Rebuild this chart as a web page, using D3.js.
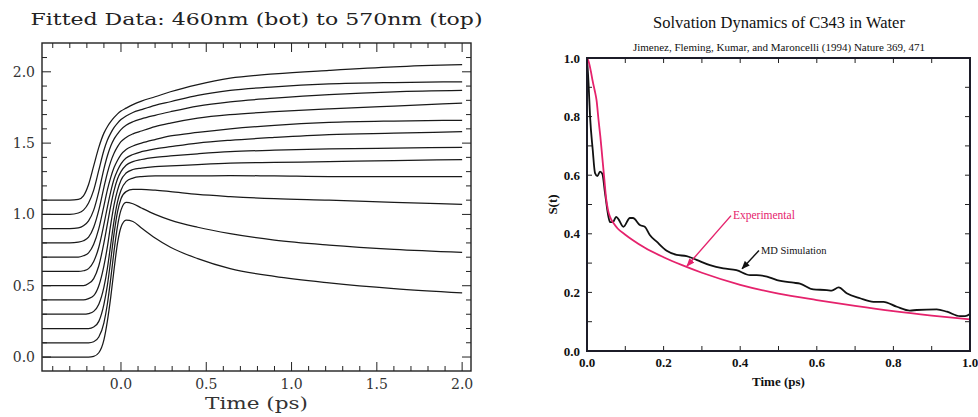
<!DOCTYPE html>
<html>
<head>
<meta charset="utf-8">
<script src="https://cdn.jsdelivr.net/npm/d3@7"></script>
<style>
  html, body { margin: 0; padding: 0; background: #fff; }
  svg { display: block; }
</style>
</head>
<body>
<svg id="chart" width="978" height="417"></svg>
<script>
// ---------- Left panel data (fitted transients, offset by 0.1 each) ----------
const leftTitle = "Fitted Data: 460nm (bot) to 570nm (top)";
const leftXLabel = "Time (ps)";
const leftTimes = [-0.46, -0.30, -0.25, -0.22, -0.19, -0.16, -0.13, -0.10, -0.08, -0.06, -0.04, -0.02, 0.0, 0.03, 0.07, 0.12, 0.2, 0.29, 0.45, 0.64, 0.9, 1.22, 1.6, 2.0];
const trace460 = [0,0,0,0,0,0.005,0.03,0.12,0.25,0.42,0.62,0.80,0.91,0.96,0.95,0.905,0.835,0.77,0.69,0.62,0.565,0.52,0.48,0.45];
const trace470 = [0.1,0.1,0.1,0.1,0.1,0.107,0.14,0.24,0.37,0.55,0.75,0.92,1.03,1.085,1.075,1.045,1.0,0.96,0.91,0.865,0.82,0.785,0.755,0.734];
const trace480 = [0.2,0.2,0.2,0.2,0.2,0.21,0.25,0.37,0.50,0.68,0.87,1.02,1.11,1.16,1.175,1.175,1.17,1.16,1.14,1.125,1.11,1.10,1.085,1.07];
const trace490 = [0.3,0.3,0.3,0.3,0.305,0.32,0.37,0.49,0.62,0.79,0.96,1.09,1.17,1.23,1.255,1.265,1.27,1.27,1.27,1.272,1.27,1.265,1.265,1.265];
const trace500 = [0.4,0.4,0.4,0.4,0.41,0.43,0.50,0.64,0.77,0.93,1.07,1.17,1.24,1.29,1.315,1.325,1.335,1.34,1.35,1.36,1.365,1.37,1.378,1.385];
const trace510 = [0.5,0.5,0.5,0.5,0.515,0.55,0.64,0.80,0.93,1.06,1.17,1.25,1.30,1.345,1.37,1.385,1.40,1.41,1.425,1.44,1.45,1.46,1.465,1.47];
const trace520 = [0.6,0.6,0.6,0.605,0.62,0.67,0.77,0.93,1.05,1.16,1.25,1.31,1.355,1.395,1.42,1.44,1.46,1.475,1.50,1.52,1.54,1.56,1.57,1.58];
const trace530 = [0.7,0.7,0.7,0.71,0.73,0.79,0.90,1.06,1.17,1.26,1.33,1.38,1.42,1.455,1.48,1.50,1.525,1.55,1.575,1.60,1.625,1.645,1.655,1.66];
const trace540 = [0.8,0.8,0.805,0.815,0.84,0.91,1.03,1.19,1.29,1.37,1.43,1.475,1.51,1.54,1.565,1.585,1.615,1.64,1.675,1.70,1.72,1.74,1.76,1.78];
const trace550 = [0.9,0.9,0.905,0.92,0.955,1.03,1.16,1.32,1.41,1.48,1.53,1.565,1.595,1.625,1.65,1.67,1.695,1.72,1.76,1.79,1.815,1.84,1.86,1.87];
const trace560 = [1.0,1.0,1.01,1.03,1.08,1.17,1.31,1.45,1.52,1.57,1.61,1.64,1.665,1.69,1.715,1.735,1.765,1.79,1.835,1.87,1.895,1.915,1.925,1.93];
const trace570 = [1.1,1.1,1.105,1.13,1.21,1.34,1.47,1.57,1.615,1.65,1.68,1.705,1.725,1.745,1.77,1.795,1.825,1.86,1.91,1.955,1.985,2.01,2.035,2.05];
const leftTraces = [trace460, trace470, trace480, trace490, trace500, trace510, trace520, trace530, trace540, trace550, trace560, trace570];
const leftXTicks = [0.0, 0.5, 1.0, 1.5, 2.0];
const leftXTickLabels = ["0.0", "0.5", "1.0", "1.5", "2.0"];
const leftYTicks = [0.0, 0.5, 1.0, 1.5, 2.0];
const leftYTickLabels = ["0.0", "0.5", "1.0", "1.5", "2.0"];

// ---------- Right panel data (solvation correlation function) ----------
const rightTitle = "Solvation Dynamics of C343 in Water";
const rightSubtitle = "Jimenez, Fleming, Kumar, and Maroncelli (1994) Nature 369, 471";
const rightXLabel = "Time (ps)";
const rightYLabel = "S(t)";
const expTime = [0,0.005,0.01,0.015,0.02,0.025,0.03,0.035,0.04,0.045,0.05,0.055,0.06,0.07,0.08,0.1,0.12,0.15,0.2,0.25,0.3,0.4,0.5,0.6,0.7,0.8,0.9,1.0];
const expS    = [1.0,0.985,0.955,0.92,0.89,0.855,0.79,0.73,0.66,0.59,0.52,0.48,0.458,0.435,0.418,0.397,0.378,0.353,0.32,0.292,0.267,0.226,0.196,0.174,0.154,0.136,0.121,0.108];
const mdTime = [0,0.004,0.008,0.015,0.021,0.027,0.034,0.04,0.047,0.056,0.06,0.068,0.076,0.082,0.095,0.112,0.12,0.138,0.151,0.164,0.182,0.208,0.234,0.26,0.286,0.321,0.356,0.39,0.426,0.443,0.47,0.496,0.539,0.556,0.591,0.626,0.639,0.657,0.678,0.713,0.748,0.774,0.809,0.843,0.861,0.913,0.94,0.974,0.987,1.0];
const mdS    = [1.0,0.915,0.80,0.686,0.607,0.597,0.612,0.605,0.54,0.458,0.44,0.44,0.458,0.45,0.424,0.454,0.454,0.43,0.424,0.396,0.373,0.342,0.328,0.324,0.311,0.293,0.282,0.276,0.259,0.259,0.254,0.242,0.233,0.23,0.21,0.208,0.206,0.217,0.197,0.18,0.168,0.168,0.151,0.138,0.14,0.142,0.134,0.119,0.119,0.126];
const rightXTicks = [0.0, 0.2, 0.4, 0.6, 0.8, 1.0];
const rightXTickLabels = ["0.0", "0.2", "0.4", "0.6", "0.8", "1.0"];
const rightYTicks = [0.0, 0.2, 0.4, 0.6, 0.8, 1.0];
const rightYTickLabels = ["0.0", "0.2", "0.4", "0.6", "0.8", "1.0"];
const annotations = [
  { text: "Experimental", color: "#e5226c", at: [0.381, 0.449], from: [0.376, 0.462], to: [0.261, 0.29] },
  { text: "MD Simulation", color: "#111", at: [0.454, 0.331], from: [0.449, 0.343], to: [0.405, 0.281] }
];

const svg = d3.select("#chart");
svg.append("rect").attr("width", 978).attr("height", 417).attr("fill", "#fff");

// ================= LEFT PANEL =================
const L = { left: 42, right: 471, top: 43, bottom: 371 };
const xL = d3.scaleLinear().domain([-0.463, 2.052]).range([L.left, L.right]);
const yL = d3.scaleLinear().domain([-0.098, 2.202]).range([L.bottom, L.top]);
const gL = svg.append("g");
const monoFont = "'DejaVu Serif', serif";

gL.append("text").attr("x", (L.left + L.right) / 2).attr("y", 25)
  .attr("text-anchor", "middle").attr("font-family", monoFont).attr("font-size", 16)
  .attr("textLength", 452).attr("lengthAdjust", "spacingAndGlyphs")
  .attr("fill", "#222").text(leftTitle);

const lineL = d3.line().x((d, i) => xL(leftTimes[i])).y(d => yL(d)).curve(d3.curveMonotoneX);
gL.append("g").selectAll("path").data(leftTraces).join("path")
  .attr("d", lineL).attr("fill", "none").attr("stroke", "#1a1a1a").attr("stroke-width", 1.25);

// ticks
const xMinorL = d3.range(-4, 21).map(k => k / 10);
const yMinorL = d3.range(0, 22).map(k => k / 10);
const isMajor = v => Math.abs(v * 2 - Math.round(v * 2)) < 1e-6;
const tk = gL.append("g").attr("stroke", "#222").attr("stroke-width", 1);
xMinorL.forEach(v => {
  const len = isMajor(v) ? 9 : 5;
  tk.append("line").attr("x1", xL(v)).attr("x2", xL(v)).attr("y1", L.bottom).attr("y2", L.bottom - len);
  tk.append("line").attr("x1", xL(v)).attr("x2", xL(v)).attr("y1", L.top).attr("y2", L.top + len);
});
yMinorL.forEach(v => {
  const len = isMajor(v) ? 9 : 5;
  tk.append("line").attr("y1", yL(v)).attr("y2", yL(v)).attr("x1", L.left).attr("x2", L.left + len);
  tk.append("line").attr("y1", yL(v)).attr("y2", yL(v)).attr("x1", L.right).attr("x2", L.right - len);
});
gL.append("rect").attr("x", L.left).attr("y", L.top).attr("width", L.right - L.left).attr("height", L.bottom - L.top)
  .attr("fill", "none").attr("stroke", "#222").attr("stroke-width", 1.4);

gL.append("g").selectAll("text").data(leftXTicks).join("text")
  .attr("x", d => xL(d)).attr("y", 389).attr("text-anchor", "middle")
  .attr("font-family", monoFont).attr("font-size", 14).attr("fill", "#333")
  .text((d, i) => leftXTickLabels[i]);
gL.append("g").selectAll("text").data(leftYTicks).join("text")
  .attr("x", 35).attr("y", d => yL(d) + 5).attr("text-anchor", "end")
  .attr("font-family", monoFont).attr("font-size", 14).attr("fill", "#333")
  .text((d, i) => leftYTickLabels[i]);
gL.append("text").attr("x", (L.left + L.right) / 2).attr("y", 409).attr("text-anchor", "middle")
  .attr("font-family", monoFont).attr("font-size", 17).attr("textLength", 103).attr("lengthAdjust", "spacingAndGlyphs")
  .attr("fill", "#333").text(leftXLabel);

// ================= RIGHT PANEL =================
const R = { left: 587, right: 970, top: 58, bottom: 351 };
const xR = d3.scaleLinear().domain([0, 1]).range([R.left, R.right]);
const yR = d3.scaleLinear().domain([0, 1]).range([R.bottom, R.top]);
const gR = svg.append("g");
const serif = "'Liberation Serif', 'Times New Roman', serif";

gR.append("text").attr("x", 779).attr("y", 28).attr("text-anchor", "middle")
  .attr("font-family", serif).attr("font-size", 16.5).attr("fill", "#111").text(rightTitle);
gR.append("text").attr("x", 779).attr("y", 51).attr("text-anchor", "middle")
  .attr("font-family", serif).attr("font-size", 11).attr("fill", "#111").text(rightSubtitle);

const tkR = gR.append("g").attr("stroke", "#222").attr("stroke-width", 1);
d3.range(0, 11).map(k => k / 10).forEach(v => {
  tkR.append("line").attr("x1", xR(v)).attr("x2", xR(v)).attr("y1", R.bottom).attr("y2", R.bottom - 5);
  tkR.append("line").attr("x1", xR(v)).attr("x2", xR(v)).attr("y1", R.top).attr("y2", R.top + 5);
  tkR.append("line").attr("y1", yR(v)).attr("y2", yR(v)).attr("x1", R.left).attr("x2", R.left + 5);
  tkR.append("line").attr("y1", yR(v)).attr("y2", yR(v)).attr("x1", R.right).attr("x2", R.right - 5);
});

const lineExp = d3.line().x((d, i) => xR(expTime[i])).y(d => yR(d)).curve(d3.curveMonotoneX);
const lineMD = d3.line().x((d, i) => xR(mdTime[i])).y(d => yR(d)).curve(d3.curveMonotoneX);
gR.append("path").datum(mdS).attr("d", lineMD).attr("fill", "none").attr("stroke", "#111").attr("stroke-width", 1.8);
gR.append("path").datum(expS).attr("d", lineExp).attr("fill", "none").attr("stroke", "#e5226c").attr("stroke-width", 1.8);

gR.append("rect").attr("x", R.left).attr("y", R.top).attr("width", R.right - R.left).attr("height", R.bottom - R.top)
  .attr("fill", "none").attr("stroke", "#1c1c28").attr("stroke-width", 2);

gR.append("g").selectAll("text").data(rightXTicks).join("text")
  .attr("x", d => xR(d)).attr("y", 367).attr("text-anchor", "middle")
  .attr("font-family", serif).attr("font-weight", "bold").attr("font-size", 13).attr("fill", "#111")
  .text((d, i) => rightXTickLabels[i]);
gR.append("g").selectAll("text").data(rightYTicks).join("text")
  .attr("x", 580).attr("y", d => yR(d) + 4.5).attr("text-anchor", "end")
  .attr("font-family", serif).attr("font-weight", "bold").attr("font-size", 13).attr("fill", "#111")
  .text((d, i) => rightYTickLabels[i]);
gR.append("text").attr("x", (R.left + R.right) / 2).attr("y", 386).attr("text-anchor", "middle")
  .attr("font-family", serif).attr("font-weight", "bold").attr("font-size", 13).attr("fill", "#111").text(rightXLabel);
gR.append("text").attr("transform", `translate(557,${yR(0.5)}) rotate(-90)`).attr("text-anchor", "middle")
  .attr("font-family", serif).attr("font-weight", "bold").attr("font-size", 13).attr("fill", "#111").text(rightYLabel);

// annotations
const defs = svg.append("defs");
annotations.forEach((a, i) => {
  defs.append("marker").attr("id", "arr" + i).attr("viewBox", "0 0 10 10").attr("refX", 9).attr("refY", 5)
    .attr("markerWidth", 6).attr("markerHeight", 6).attr("orient", "auto")
    .append("path").attr("d", "M0,1 L10,5 L0,9 Z").attr("fill", a.color);
  gR.append("line").attr("x1", xR(a.from[0])).attr("y1", yR(a.from[1]))
    .attr("x2", xR(a.to[0])).attr("y2", yR(a.to[1]))
    .attr("stroke", a.color).attr("stroke-width", 1.4).attr("marker-end", `url(#arr${i})`);
  gR.append("text").attr("x", xR(a.at[0])).attr("y", yR(a.at[1]))
    .attr("font-family", serif).attr("font-size", i === 0 ? 11.5 : 10.5).attr("fill", a.color).text(a.text);
});
</script>
</body>
</html>
